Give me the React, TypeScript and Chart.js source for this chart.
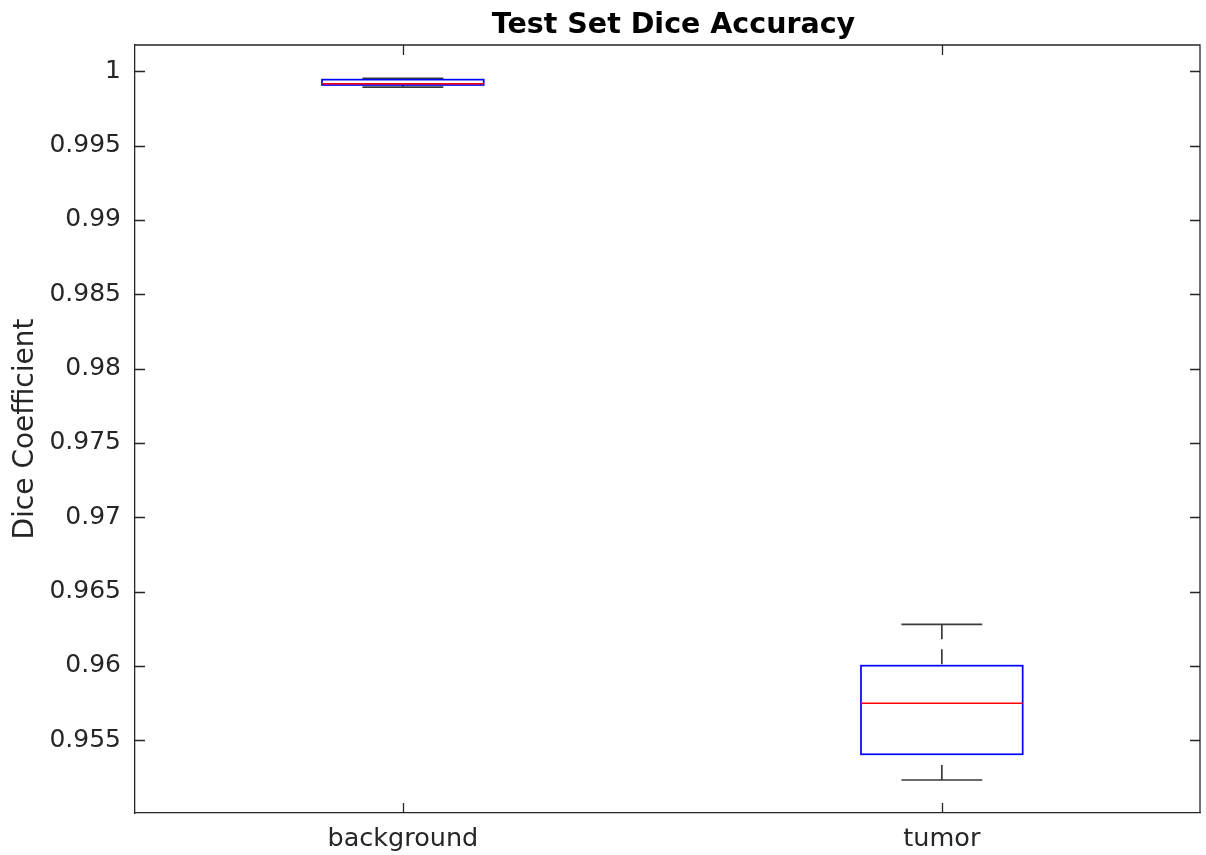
import React, { useEffect, useRef } from "react";
import { Chart, registerables } from "chart.js";

Chart.register(...registerables);

const categories = ["background", "tumor"];
const upperWhisker = [0.99953, 0.9628];
const q3 = [0.99944, 0.96002];
const median = [0.99917, 0.95749];
const q1 = [0.99908, 0.95406];
const lowerWhisker = [0.99894, 0.95233];
const yTicks = [0.955, 0.96, 0.965, 0.97, 0.975, 0.98, 0.985, 0.99, 0.995, 1];
const yMin = 0.95011;
const yMax = 1.00177;
const xMin = 0.503;
const xMax = 2.479;
const titleText = "Test Set Dice Accuracy";
const yLabel = "Dice Coefficient";

const AXIS = "#262626";
const FONT = "'DejaVu Sans', sans-serif";

const boxPlugin = {
  id: "boxplotDraw",
  afterDatasetsDraw(chart: any) {
    const ctx = chart.ctx;
    const xs = chart.scales.x;
    const ys = chart.scales.y;
    const area = chart.chartArea;
    ctx.save();
    // top/right borders
    ctx.strokeStyle = AXIS;
    ctx.lineWidth = 1.3;
    ctx.beginPath();
    ctx.moveTo(area.left, area.top);
    ctx.lineTo(area.right, area.top);
    ctx.lineTo(area.right, area.bottom);
    ctx.stroke();
    // inner ticks
    const tl = 10;
    ctx.beginPath();
    yTicks.forEach((v) => {
      const y = Math.round(ys.getPixelForValue(v)) + 0.5;
      ctx.moveTo(area.left, y);
      ctx.lineTo(area.left + tl, y);
      ctx.moveTo(area.right, y);
      ctx.lineTo(area.right - tl, y);
    });
    categories.forEach((_, i) => {
      const x = Math.round(xs.getPixelForValue(i + 1)) + 0.5;
      ctx.moveTo(x, area.bottom);
      ctx.lineTo(x, area.bottom - tl);
      ctx.moveTo(x, area.top);
      ctx.lineTo(x, area.top + tl);
    });
    ctx.stroke();

    categories.forEach((_, i) => {
      const c = i + 1;
      const xc = xs.getPixelForValue(c);
      const bl = xs.getPixelForValue(c - 0.15);
      const br = xs.getPixelForValue(c + 0.15);
      const cl = xs.getPixelForValue(c - 0.075);
      const cr = xs.getPixelForValue(c + 0.075);
      const yUw = ys.getPixelForValue(upperWhisker[i]);
      const yQ3 = ys.getPixelForValue(q3[i]);
      const yMed = ys.getPixelForValue(median[i]);
      const yQ1 = ys.getPixelForValue(q1[i]);
      const yLw = ys.getPixelForValue(lowerWhisker[i]);

      // whiskers
      ctx.strokeStyle = "#3a3a3a";
      ctx.lineWidth = 1.7;
      ctx.setLineDash([15, 10]);
      ctx.beginPath();
      ctx.moveTo(xc, yUw);
      ctx.lineTo(xc, yQ3);
      ctx.moveTo(xc, yLw);
      ctx.lineTo(xc, yQ1);
      ctx.stroke();
      ctx.setLineDash([]);
      ctx.beginPath();
      ctx.moveTo(cl, yUw);
      ctx.lineTo(cr, yUw);
      ctx.moveTo(cl, yLw);
      ctx.lineTo(cr, yLw);
      ctx.stroke();

      // box
      ctx.strokeStyle = "#0000ff";
      ctx.lineWidth = 1.7;
      ctx.strokeRect(bl, yQ3, br - bl, yQ1 - yQ3);

      // median
      ctx.strokeStyle = "#ff0000";
      ctx.lineWidth = 1.5;
      ctx.beginPath();
      ctx.moveTo(bl, yMed);
      ctx.lineTo(br, yMed);
      ctx.stroke();
    });

    // title
    ctx.fillStyle = "#000";
    ctx.font = `bold 28.5px ${FONT}`;
    ctx.textAlign = "center";
    ctx.textBaseline = "alphabetic";
    ctx.fillText(titleText, (area.left + area.right) / 2 + 6, 33);
    ctx.restore();
  },
};

export default function App() {
  const ref = useRef<HTMLCanvasElement | null>(null);
  useEffect(() => {
    document.body.style.margin = "0";
    if (!ref.current) return;
    const chart = new Chart(ref.current, {
      type: "scatter",
      data: { datasets: [{ data: [] }] },
      options: {
        animation: false,
        responsive: false,
        layout: { padding: { top: 45, right: 6, left: 0, bottom: 0 } },
        plugins: { legend: { display: false }, tooltip: { enabled: false }, title: { display: false } },
        scales: {
          x: {
            type: "linear",
            min: xMin,
            max: xMax,
            afterBuildTicks: (s: any) => {
              s.ticks = categories.map((_, i) => ({ value: i + 1 }));
            },
            afterFit: (s: any) => {
              s.height = 42;
            },
            ticks: {
              callback: (v: any) => categories[Number(v) - 1] ?? "",
              color: AXIS,
              font: { family: FONT, size: 25.5 },
              padding: 11,
              maxRotation: 0,
              autoSkip: false,
            },
            grid: { display: true, drawOnChartArea: false, drawTicks: false },
            border: { display: true, color: AXIS, width: 1.3 },
          },
          y: {
            type: "linear",
            min: yMin,
            max: yMax,
            afterBuildTicks: (s: any) => {
              s.ticks = yTicks.map((v) => ({ value: v }));
            },
            afterFit: (s: any) => {
              s.width = 135;
            },
            ticks: {
              callback: (v: any) => String(Number(Number(v).toFixed(3))),
              color: AXIS,
              font: { family: FONT, size: 25 },
              padding: 14,
              autoSkip: false,
            },
            title: {
              display: true,
              text: yLabel,
              color: AXIS,
              font: { family: FONT, size: 28 },
              padding: { top: 9, bottom: 0 },
            },
            grid: { display: true, drawOnChartArea: false, drawTicks: false },
            border: { display: true, color: AXIS, width: 1.3 },
          },
        },
      },
      plugins: [boxPlugin],
    } as any);
    return () => chart.destroy();
  }, []);
  return (
    <div style={{ width: 1206, height: 855, background: "#fff" }}>
      <canvas ref={ref} width={1206} height={855} />
    </div>
  );
}
